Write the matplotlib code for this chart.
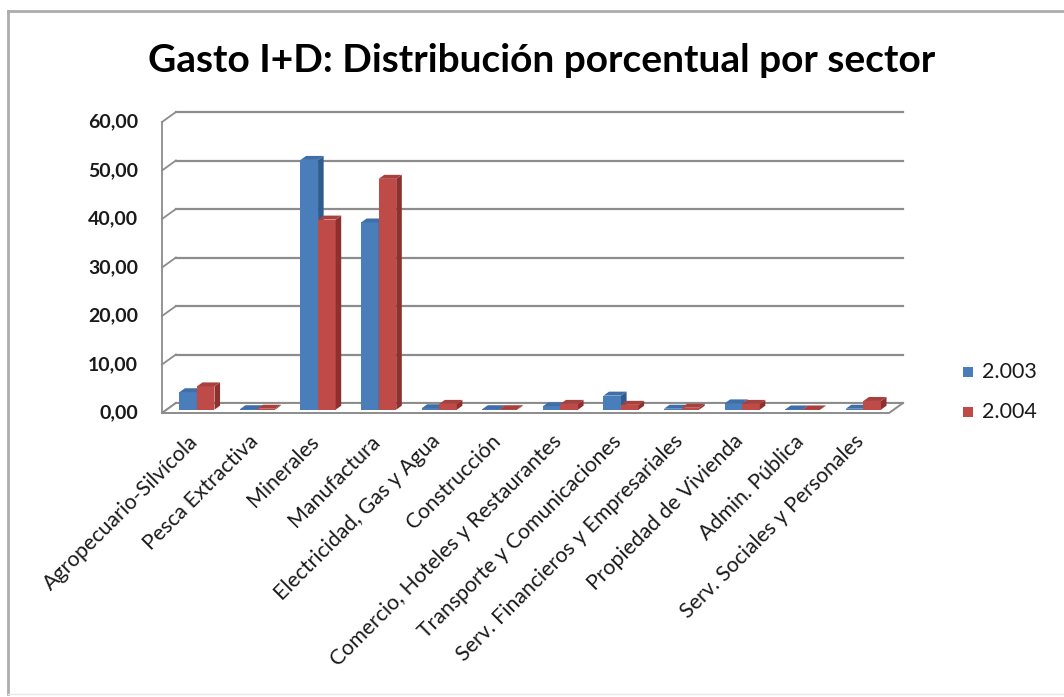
import matplotlib
matplotlib.use("Agg")
import matplotlib.pyplot as plt
from matplotlib.patches import Polygon
from matplotlib.lines import Line2D

categories = ["Agropecuario-Silvícola", "Pesca Extractiva", "Minerales", "Manufactura",
              "Electricidad, Gas y Agua", "Construcción", "Comercio, Hoteles y Restaurantes",
              "Transporte y Comunicaciones", "Serv. Financieros y Empresariales",
              "Propiedad de Vivienda", "Admin. Pública", "Serv. Sociales y Personales"]
series_names = ["2.003", "2.004"]
values_2003 = [3.6, 0.1, 51.5, 38.6, 0.3, 0.1, 0.7, 2.9, 0.2, 1.3, 0.05, 0.2]
values_2004 = [4.8, 0.2, 39.2, 47.6, 1.2, 0.1, 1.2, 1.0, 0.4, 1.2, 0.05, 1.8]
yticks = [0, 10, 20, 30, 40, 50, 60]
ytick_labels = ["0,00", "10,00", "20,00", "30,00", "40,00", "50,00", "60,00"]
title = "Gasto I+D: Distribución porcentual por sector"

face_cols = ["#4A7EBB", "#BE4B48"]
side_cols = ["#2F5B8E", "#8E302E"]
top_cols = ["#3F6EA8", "#A8413E"]

W, H = 1064, 697
fig = plt.figure(figsize=(W / 100, H / 100), dpi=100)
fig.patch.set_facecolor("white")

# outer chart border
fig.add_artist(Line2D([8 / W, 1.0], [1 - 11 / H, 1 - 11 / H], color="#ADADAD", lw=2))
fig.add_artist(Line2D([8 / W, 8 / W], [1 - 11 / H, 1 - 694 / H], color="#ADADAD", lw=2))
fig.add_artist(Line2D([8 / W, 1.0], [1 - 694 / H, 1 - 694 / H], color="#E8E8E8", lw=1))

x0, x1 = 162, 903
y_top, y_bot = 112, 413
ax = fig.add_axes([x0 / W, 1 - y_bot / H, (x1 - x0) / W, (y_bot - y_top) / H])
n = len(categories)
DX, DY = 0.23, 2.06  # floor depth in data units
ax.set_xlim(0, n + DX)
ax.set_ylim(0, 60 + DY)
ax.axis("off")

grid_c = "#8C8C8C"
# back wall gridlines + left wall slants
for v, lab in zip(yticks, ytick_labels):
    ax.plot([DX, n + DX], [v + DY, v + DY], color=grid_c, lw=1.6, zorder=1, clip_on=False)
    ax.plot([0, DX], [v, v + DY], color=grid_c, lw=1.3, zorder=1, clip_on=False)
    ax.text(-24 / 60.6, v, lab, ha="right", va="center",
            fontsize=14, fontweight="bold", family="Lato", color="#1a1a1a")
ax.plot([0, 0], [0, 60], color=grid_c, lw=1.3, zorder=1, clip_on=False)
# floor
floor = Polygon([[0, 0], [n, 0], [n + DX, DY], [DX, DY]], closed=True,
                facecolor="white", edgecolor=grid_c, lw=1.4, zorder=2, clip_on=False)
ax.add_patch(floor)

# bars
bw = 0.29
f0, f1 = 0.33, 0.73
for i in range(n):
    for s, vals in enumerate([values_2003, values_2004]):
        v = vals[i]
        xl = i + 0.5 - bw + s * bw + f0 * DX
        yb = f0 * DY
        ddx, ddy = (f1 - f0) * DX, (f1 - f0) * DY
        z = 3 + i * 2 + s
        front = Polygon([[xl, yb], [xl + bw, yb], [xl + bw, yb + v], [xl, yb + v]],
                        closed=True, facecolor=face_cols[s], edgecolor="none", zorder=z)
        side = Polygon([[xl + bw, yb], [xl + bw + ddx, yb + ddy], [xl + bw + ddx, yb + ddy + v],
                        [xl + bw, yb + v]], closed=True, facecolor=side_cols[s],
                       edgecolor="none", zorder=z)
        top = Polygon([[xl, yb + v], [xl + bw, yb + v], [xl + bw + ddx, yb + ddy + v],
                       [xl + ddx, yb + ddy + v]], closed=True, facecolor=top_cols[s],
                      edgecolor="none", zorder=z)
        for p in (front, side, top):
            ax.add_patch(p)

# category labels
for i, c in enumerate(categories):
    ax.text(i + 0.5 + 0.04, -5.2, c, rotation=45, rotation_mode="anchor",
            ha="right", va="center", fontsize=15.3, family="Lato", color="#1a1a1a")

# title
fig.text(542 / W, 1 - 60 / H, title, ha="center", va="center", fontsize=28,
         fontweight="bold", family="Lato", color="black")

# legend
for s, name in enumerate(series_names):
    yy = 372 + s * 40
    fig.patches.append(plt.Rectangle(((968 - 5) / W, 1 - (yy + 5) / H), 10 / W, 10 / H,
                                     transform=fig.transFigure, facecolor=face_cols[s],
                                     edgecolor="none"))
    fig.text(982 / W, 1 - yy / H, name, ha="left", va="center", fontsize=15.5,
             family="Lato", color="#1a1a1a")

fig.savefig("out.png", dpi=100, facecolor="white")
